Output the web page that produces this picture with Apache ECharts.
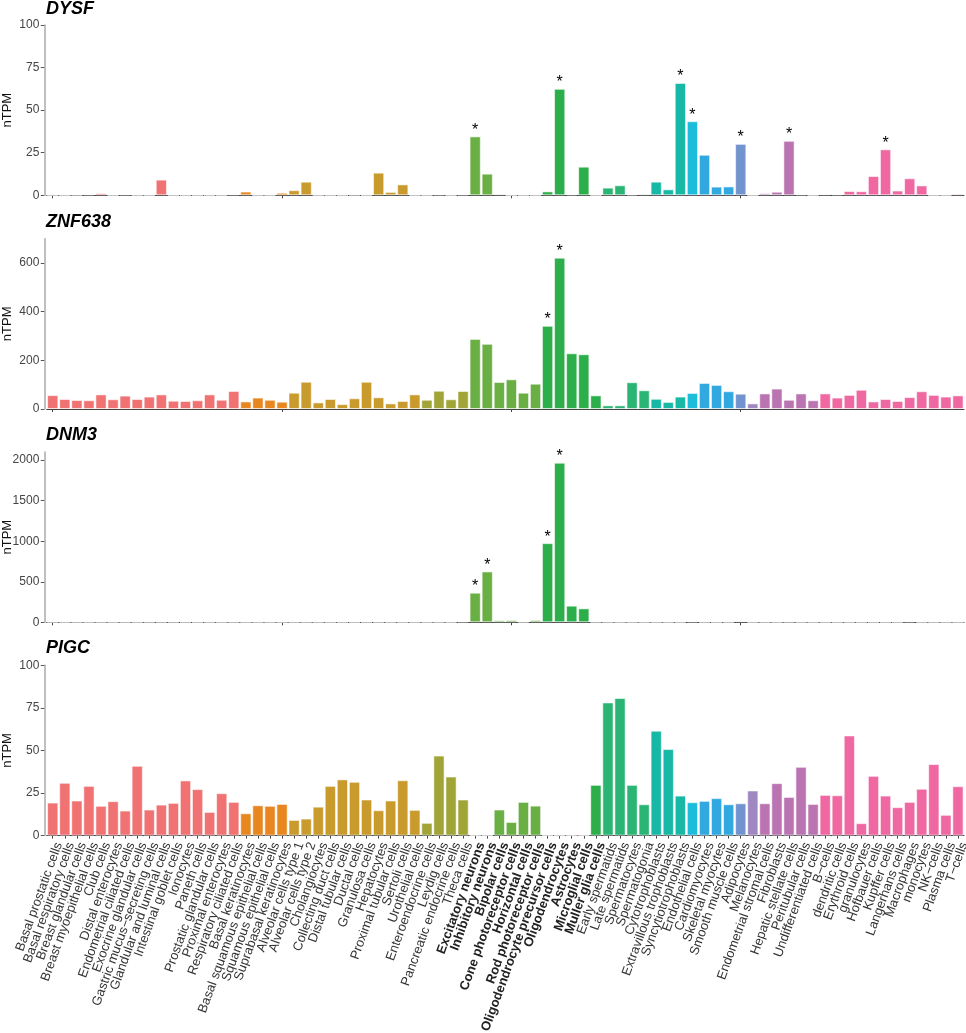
<!DOCTYPE html>
<html>
<head>
<meta charset="utf-8">
<script src="https://cdn.jsdelivr.net/npm/echarts@6/dist/echarts.min.js"></script>
<style>
html,body{margin:0;padding:0;background:#fff;}
#chart{width:966px;height:1033px;}
</style>
</head>
<body>
<div id="chart"></div>
<script>
const categories = [
  'Basal prostatic cells','Basal respiratory cells','Breast glandular cells','Breast myoepithelial cells','Club cells',
  'Distal enterocytes','Endometrial ciliated cells','Exocrine glandular cells','Gastric mucus\u2212secreting cells','Glandular and luminal cells',
  'Intestinal goblet cells','Ionocytes','Paneth cells','Prostatic glandular cells','Proximal enterocytes',
  'Respiratory ciliated cells','Basal keratinocytes','Basal squamous epithelial cells','Squamous epithelial cells','Suprabasal keratinocytes',
  'Alveolar cells type 1','Alveolar cells type 2','Cholangiocytes','Collecting duct cells','Distal tubular cells',
  'Ductal cells','Granulosa cells','Hepatocytes','Proximal tubular cells','Sertoli cells',
  'Urothelial cells','Enteroendocrine cells','Leydig cells','Pancreatic endocrine cells','Theca cells',
  'Excitatory neurons','Inhibitory neurons','Bipolar cells','Cone photoreceptor cells','Horizontal cells',
  'Rod photoreceptor cells','Oligodendrocyte precursor cells','Oligodendrocytes','Astrocytes','Microglial cells',
  'Muller glia cells','Early spermatids','Late spermatids','Spermatocytes','Spermatogonia',
  'Cytotrophoblasts','Extravillous trophoblasts','Syncytiotrophoblasts','Endothelial cells','Cardiomyocytes',
  'Skeletal myocytes','Smooth muscle cells','Adipocytes','Melanocytes','Endometrial stromal cells',
  'Fibroblasts','Hepatic stellate cells','Peritubular cells','Undifferentiated cells','B\u2212cells',
  'dendritic cells','Erythroid cells','granulocytes','Hofbauer cells','Kupffer cells',
  'Langerhans cells','Macrophages','monocytes','NK\u2212cells','Plasma cells','T\u2212cells'
];

const groups = [
  'glandular','glandular','glandular','glandular','glandular','glandular','glandular','glandular','glandular','glandular',
  'glandular','glandular','glandular','glandular','glandular','glandular',
  'squamous','squamous','squamous','squamous',
  'specialized','specialized','specialized','specialized','specialized','specialized','specialized','specialized','specialized','specialized','specialized',
  'endocrine','endocrine','endocrine','endocrine',
  'neuronal','neuronal','neuronal','neuronal','neuronal','neuronal',
  'glial','glial','glial','glial','glial',
  'germ','germ','germ','germ',
  'trophoblast','trophoblast','trophoblast',
  'endothelial',
  'muscle','muscle','muscle',
  'adipocyte',
  'pigment',
  'mesenchymal','mesenchymal','mesenchymal','mesenchymal','mesenchymal',
  'immune','immune','immune','immune','immune','immune','immune','immune','immune','immune','immune','immune'
];

const groupColors = {
  glandular:'#F07272', squamous:'#E8861F', specialized:'#C99A2C', endocrine:'#A1A538',
  neuronal:'#6AAF43', glial:'#2CAF4A', germ:'#2BB574', trophoblast:'#17B9A6',
  endothelial:'#1CBCDB', muscle:'#31A8E0', adipocyte:'#7294CE', pigment:'#9F87C2',
  mesenchymal:'#BA74B2', immune:'#F068A1'
};

const boldCategories = [
  'Excitatory neurons','Inhibitory neurons','Bipolar cells','Cone photoreceptor cells','Horizontal cells',
  'Rod photoreceptor cells','Oligodendrocyte precursor cells','Oligodendrocytes','Astrocytes','Microglial cells','Muller glia cells'
];

const genes = ['DYSF','ZNF638','DNM3','PIGC'];
const yAxisTitle = 'nTPM';

const dysfValues = [
  0,0,0.2,0.6,1.2,0,0.6,0,0,9.2,
  0,0,0,0,0,0.6,2.2,0,0,1.5,
  3.0,8.0,0,0,0,0.2,0,13.3,2.0,6.4,
  0,0,0.5,0,0.5,34.6,12.7,0.8,0,0,
  0,2.3,62.5,0.6,16.8,0,4.5,5.9,0.5,0.8,
  8.0,3.5,66.0,43.5,23.8,5.1,5.2,30.2,0,1.2,
  2.1,32.0,0.6,0,0.7,0.6,2.5,2.4,11.3,27.0,
  2.8,10.0,5.8,0,0,0.9
];
const znf638Values = [
  57,41,37,36,60,40,55,41,51,60,
  34,33,36,60,38,74,31,47,38,30,
  67,112,27,41,20,44,112,48,23,33,
  60,38,75,40,74,288,268,111,122,67,
  104,342,622,229,225,56,15,15,110,77,
  42,29,51,66,107,99,73,63,23,64,
  84,38,64,36,64,47,58,79,31,41,
  33,49,73,58,51,56
];
const dnm3Values = [
  2,1,2,1,2,1,2,1,3,3,
  3,2,1,2,1,2,1,1,1,1,
  1,2,1,1,1,1,2,2,1,1,
  1,1,2,1,10,365,627,25,28,4,
  28,976,1968,205,172,3,2,1,1,1,
  1,1,1,12,2,1,2,16,1,2,
  1,4,1,1,1,1,1,1,1,1,
  1,12,1,1,1,1
];
const pigcValues = [
  19.4,31.0,20.6,29.2,17.5,20.2,14.7,41.0,15.3,18.2,
  19.2,32.4,27.3,13.9,24.9,19.8,13.1,17.8,17.5,18.6,
  9.2,10.0,17.0,29.2,33.0,31.6,21.2,14.9,20.6,32.5,
  15.1,7.5,47.0,34.7,21.2,0,0,15.3,8.0,19.8,
  17.6,0,0,0,0,29.8,78.2,80.8,29.8,18.4,
  61.6,50.8,23.5,19.6,20.4,22.0,18.4,19.0,26.5,19.0,
  30.8,22.7,40.4,18.6,23.9,23.7,58.8,7.3,35.1,23.5,
  16.7,19.8,27.5,42.0,12.2,29.0
];
const geneValues = [dysfValues, znf638Values, dnm3Values, pigcValues];

const starsDYSF = ['Excitatory neurons','Oligodendrocytes','Syncytiotrophoblasts','Endothelial cells','Adipocytes','Hepatic stellate cells','Kupffer cells'];
const starsZNF638 = ['Oligodendrocyte precursor cells','Oligodendrocytes'];
const starsDNM3 = ['Excitatory neurons','Inhibitory neurons','Oligodendrocyte precursor cells','Oligodendrocytes'];
const starsPIGC = [];
const geneStars = [starsDYSF, starsZNF638, starsDNM3, starsPIGC];

const yTicksDYSF = [0,25,50,75,100];
const yTicksZNF638 = [0,200,400,600];
const yTicksDNM3 = [0,500,1000,1500,2000];
const yTicksPIGC = [0,25,50,75,100];
const geneYTicks = [yTicksDYSF, yTicksZNF638, yTicksDNM3, yTicksPIGC];
const geneYMax = [100, 700, 2100, 100];

const FONT = '"Liberation Sans", Arial, Helvetica, sans-serif';
const gridTops = [25, 238.7, 452, 665.3];
const gridH = 170.3;
const titleCenters = [9, 221.7, 435, 648.3];

const chart = echarts.init(document.getElementById('chart'), null, {renderer:'canvas'});

const grids = [], xAxes = [], yAxes = [], series = [], titles = [], graphics = [];
genes.forEach((g, k) => {
  grids.push({left: 46.7, width: 917.3, top: gridTops[k], height: gridH, containLabel: false, outerBoundsMode: 'none'});
  titles.push({
    text: g, left: 46, top: titleCenters[k] - 10, padding: 0,
    textStyle: {fontFamily: FONT, fontSize: 18, fontWeight: 'bold', fontStyle: 'italic', color: '#000', lineHeight: 20}
  });
  graphics.push({
    type: 'text', x: 7, y: gridTops[k] + gridH / 2, rotation: Math.PI / 2, silent: true,
    style: {text: yAxisTitle, fill: '#111', font: '13px ' + FONT, align: 'center', verticalAlign: 'middle'}
  });
  xAxes.push({
    type: 'category', gridIndex: k, data: categories,
    axisLine: {show: true, lineStyle: {color: '#444', width: 1}},
    axisTick: {show: true, alignWithLabel: true, length: 3, lineStyle: {color: '#444'}},
    axisLabel: k === 3 ? {
      show: true, interval: 0, rotate: 70, margin: 5, fontSize: 13, fontFamily: FONT, color: '#333',
      verticalAlign: 'top',
      hideOverlap: false,
      formatter: (v) => boldCategories.indexOf(v) >= 0 ? '{b|' + v + '}' : v,
      rich: {b: {fontWeight: 'bold', fontSize: 13, fontFamily: FONT, color: '#222'}}
    } : {show: false},
    splitLine: {show: false}
  });
  const ticks = geneYTicks[k];
  yAxes.push({
    type: 'value', gridIndex: k, min: 0, max: geneYMax[k], offset: 2.4,
    axisLine: {show: true, lineStyle: {color: '#aaaaaa', width: 1.5}},
    axisTick: {show: true, length: 3.5, lineStyle: {color: '#555'}, customValues: ticks},
    axisLabel: {show: true, margin: 5, fontSize: 12, fontFamily: FONT, color: '#444', customValues: ticks,
      formatter: (v) => String(v)},
    splitLine: {show: false}
  });
  const stars = geneStars[k];
  series.push({
    type: 'bar', xAxisIndex: k, yAxisIndex: k,
    barCategoryGap: '7%',
    data: geneValues[k].map((v, i) => {
      const item = {
        value: v,
        itemStyle: {color: groupColors[groups[i]], borderColor: 'rgba(255,255,255,0.55)', borderWidth: 1}
      };
      if (stars.indexOf(categories[i]) >= 0) {
        item.label = {show: true, position: 'top', distance: -2, formatter: '*',
          fontSize: 16, fontFamily: FONT, color: '#000'};
      }
      return item;
    }),
    emphasis: {disabled: true},
    animation: false
  });
});

chart.setOption({
  animation: false,
  backgroundColor: '#fff',
  title: titles,
  grid: grids,
  xAxis: xAxes,
  yAxis: yAxes,
  series: series,
  graphic: graphics
});
</script>
</body>
</html>
